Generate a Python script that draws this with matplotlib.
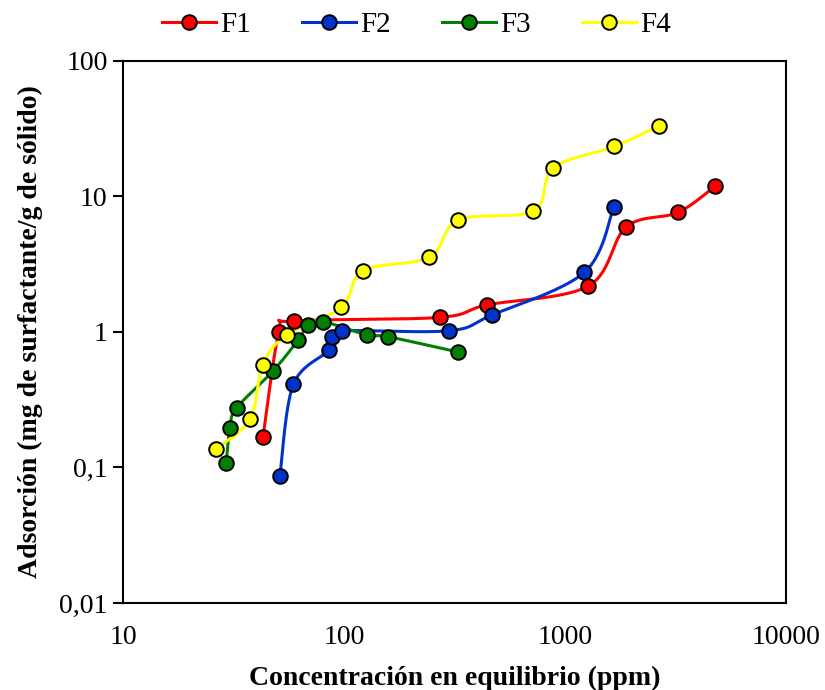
import numpy as np
import matplotlib
matplotlib.use("Agg")
import matplotlib.pyplot as plt
from matplotlib.lines import Line2D

# Equilibrium concentration (ppm) and adsorption (mg surfactant / g solid)
f1_x = [43, 50.8, 59.6, 272, 443, 1274, 1892, 3237, 4775]
f1_y = [0.168, 1.0, 1.2, 1.28, 1.58, 2.18, 5.96, 7.6, 11.9]

f2_x = [51.3, 59, 85.9, 87.9, 98, 299, 466, 1222, 1660]
f2_y = [0.087, 0.41, 0.736, 0.92, 1.02, 1.02, 1.33, 2.75, 8.36]

f3_x = [29.3, 30.5, 32.7, 47.9, 62.1, 69, 80.6, 126.8, 158.6, 329]
f3_y = [0.107, 0.197, 0.275, 0.518, 0.873, 1.13, 1.19, 0.95, 0.92, 0.71]

f4_x = [26.4, 37.6, 42.9, 55.1, 97.3, 122, 243, 329, 719, 885, 1667, 2661]
f4_y = [0.138, 0.227, 0.57, 0.95, 1.52, 2.82, 3.56, 6.7, 7.8, 16.2, 23.3, 33.1]

series_names = ["F1", "F2", "F3", "F4"]
series_colors = ["#FF0000", "#0033CC", "#008000", "#FFFF00"]

x_ticks = [10, 100, 1000, 10000]
x_ticklabels = ["10", "100", "1000", "10000"]
y_ticks = [0.01, 0.1, 1, 10, 100]
y_ticklabels = ["0,01", "0,1", "1", "10", "100"]


def smooth_log(xs, ys, n=30):
    """Catmull-Rom curve through the points, computed in log-log space."""
    lx = np.log10(np.asarray(xs, float))
    ly = np.log10(np.asarray(ys, float))
    P = np.column_stack([lx, ly])
    P = np.vstack([P[0], P, P[-1]])
    out = []
    t = np.linspace(0, 1, n)
    for i in range(1, len(P) - 2):
        p0, p1, p2, p3 = P[i - 1], P[i], P[i + 1], P[i + 2]
        c1 = p1 + (p2 - p0) / 6.0
        c2 = p2 - (p3 - p1) / 6.0
        seg = ((1 - t) ** 3)[:, None] * p1 + (3 * (1 - t) ** 2 * t)[:, None] * c1 \
            + (3 * (1 - t) * t ** 2)[:, None] * c2 + (t ** 3)[:, None] * p2
        out.append(seg if i == 1 else seg[1:])
    out = np.vstack(out)
    return 10 ** out[:, 0], 10 ** out[:, 1]


plt.rcParams["font.family"] = ["Liberation Serif", "DejaVu Serif"]

fig = plt.figure(figsize=(8.25, 6.9), dpi=100)
ax = fig.add_axes([0.149, 0.126, 0.804, 0.786])

data = [(f1_x, f1_y), (f2_x, f2_y), (f3_x, f3_y), (f4_x, f4_y)]
handles = []
for (xs, ys), name, col in zip(data, series_names, series_colors):
    sx, sy = smooth_log(xs, ys)
    ax.plot(sx, sy, color=col, lw=2.2, zorder=2, solid_capstyle="round")
    ax.plot(xs, ys, linestyle="none", marker="o", ms=10.5, mfc=col,
            mec="black", mew=1.4, zorder=3)
    handles.append(Line2D([0], [0], color=col, lw=2.2, marker="o", ms=10.5,
                          mfc=col, mec="black", mew=1.4, label=name))

ax.set_xscale("log")
ax.set_yscale("log")
ax.set_xlim(10, 10000)
ax.set_ylim(0.01, 100)

ax.set_xticks(x_ticks)
ax.set_xticklabels(x_ticklabels)
ax.set_yticks(y_ticks)
ax.set_yticklabels(y_ticklabels)
ax.minorticks_off()
ax.tick_params(axis="x", length=0, pad=16, labelsize=20)
ax.tick_params(axis="y", length=7, width=1.5, direction="out", pad=4, labelsize=20)

for sp in ax.spines.values():
    sp.set_linewidth(1.5)
    sp.set_color("black")

ax.set_xlabel("Concentración en equilibrio (ppm)", fontsize=20,
              fontweight="bold", labelpad=11)
ax.set_ylabel("Adsorción (mg de surfactante/g de sólido)", fontsize=20,
              fontweight="bold", labelpad=12)

fig.legend(handles=handles, loc="center", bbox_to_anchor=(0.505, 0.964),
           ncol=4, frameon=False, fontsize=21, handlelength=1.85,
           handletextpad=0.15, columnspacing=1.75)

fig.savefig("out.png", dpi=100)
